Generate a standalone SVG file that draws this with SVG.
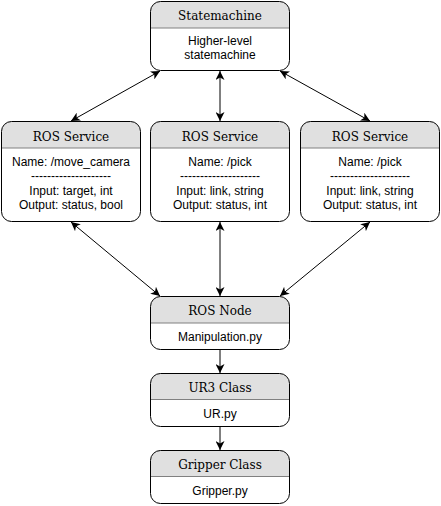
<svg xmlns="http://www.w3.org/2000/svg" width="441" height="506" viewBox="0 0 441 506">
<style>
.body{fill:#ffffff;stroke:none}
.head{fill:#e0e0e0;stroke:none}
.div{stroke:#808080;stroke-width:1.2}
.outline{fill:none;stroke:#000000;stroke-width:1}
.title{font-family:"DejaVu Serif",serif;font-size:12px;fill:#000;text-anchor:middle}
.txt{font-family:"Liberation Sans",Arial,sans-serif;font-size:12px;fill:#000;text-anchor:middle}
.conn{stroke:#000;stroke-width:1;fill:none}
</style>
<defs>
<marker id="arr" markerUnits="userSpaceOnUse" markerWidth="10" markerHeight="9" refX="9" refY="4.5" orient="auto-start-reverse" viewBox="0 0 10 9">
<path d="M0,0 L9,4.5 L0,9 L2.5,4.5 Z" fill="#000"/>
</marker>
</defs>
<rect width="441" height="506" fill="#ffffff"/>

<g id="connectors">
<line class="conn" x1="160" y1="71" x2="71" y2="121" marker-start="url(#arr)" marker-end="url(#arr)"/>
<line class="conn" x1="220" y1="71" x2="220" y2="121" marker-start="url(#arr)" marker-end="url(#arr)"/>
<line class="conn" x1="280" y1="71" x2="370" y2="121" marker-start="url(#arr)" marker-end="url(#arr)"/>
<line class="conn" x1="71" y1="222" x2="160" y2="296" marker-start="url(#arr)" marker-end="url(#arr)"/>
<line class="conn" x1="220" y1="222" x2="220" y2="296" marker-start="url(#arr)" marker-end="url(#arr)"/>
<line class="conn" x1="370" y1="222" x2="280" y2="296" marker-start="url(#arr)" marker-end="url(#arr)"/>
<line class="conn" x1="220" y1="349" x2="220" y2="373" marker-end="url(#arr)"/>
<line class="conn" x1="220" y1="426" x2="220" y2="450" marker-end="url(#arr)"/>
</g>

<g id="statemachine">
<rect class="body" x="150.5" y="1.5" width="139" height="69" rx="10"/>
<path class="head" d="M150.5,28 V11.5 A10,10 0 0 1 160.5,1.5 H279.5 A10,10 0 0 1 289.5,11.5 V28 Z"/>
<line class="div" x1="150.5" y1="28" x2="289.5" y2="28"/>
<rect class="outline" x="150.5" y="1.5" width="139" height="69" rx="10"/>
<text class="title" x="220" y="19.5">Statemachine</text>
<text class="txt" x="220" y="45">Higher-level</text>
<text class="txt" x="220" y="59">statemachine</text>
</g>

<g id="service1">
<rect class="body" x="1.5" y="121.5" width="139" height="100" rx="10"/>
<path class="head" d="M1.5,148 V131.5 A10,10 0 0 1 11.5,121.5 H130.5 A10,10 0 0 1 140.5,131.5 V148 Z"/>
<line class="div" x1="1.5" y1="148" x2="140.5" y2="148"/>
<rect class="outline" x="1.5" y="121.5" width="139" height="100" rx="10"/>
<text class="title" x="71" y="140.5">ROS Service</text>
<text class="txt" x="71" y="166">Name: /move_camera</text>
<text class="txt" x="71" y="180">--------------------</text>
<text class="txt" x="71" y="195">Input: target, int</text>
<text class="txt" x="71" y="209">Output: status, bool</text>
</g>

<g id="service2">
<rect class="body" x="150.5" y="121.5" width="139" height="100" rx="10"/>
<path class="head" d="M150.5,148 V131.5 A10,10 0 0 1 160.5,121.5 H279.5 A10,10 0 0 1 289.5,131.5 V148 Z"/>
<line class="div" x1="150.5" y1="148" x2="289.5" y2="148"/>
<rect class="outline" x="150.5" y="121.5" width="139" height="100" rx="10"/>
<text class="title" x="220" y="140.5">ROS Service</text>
<text class="txt" x="220" y="166">Name: /pick</text>
<text class="txt" x="220" y="180">--------------------</text>
<text class="txt" x="220" y="195">Input: link, string</text>
<text class="txt" x="220" y="209">Output: status, int</text>
</g>

<g id="service3">
<rect class="body" x="300.5" y="121.5" width="139" height="100" rx="10"/>
<path class="head" d="M300.5,148 V131.5 A10,10 0 0 1 310.5,121.5 H429.5 A10,10 0 0 1 439.5,131.5 V148 Z"/>
<line class="div" x1="300.5" y1="148" x2="439.5" y2="148"/>
<rect class="outline" x="300.5" y="121.5" width="139" height="100" rx="10"/>
<text class="title" x="370" y="140.5">ROS Service</text>
<text class="txt" x="370" y="166">Name: /pick</text>
<text class="txt" x="370" y="180">--------------------</text>
<text class="txt" x="370" y="195">Input: link, string</text>
<text class="txt" x="370" y="209">Output: status, int</text>
</g>

<g id="rosnode">
<rect class="body" x="150.5" y="296.5" width="139" height="53" rx="10"/>
<path class="head" d="M150.5,323 V306.5 A10,10 0 0 1 160.5,296.5 H279.5 A10,10 0 0 1 289.5,306.5 V323 Z"/>
<line class="div" x1="150.5" y1="323" x2="289.5" y2="323"/>
<rect class="outline" x="150.5" y="296.5" width="139" height="53" rx="10"/>
<text class="title" x="220" y="315">ROS Node</text>
<text class="txt" x="220" y="340.5">Manipulation.py</text>
</g>

<g id="ur3">
<rect class="body" x="150.5" y="373.5" width="139" height="53" rx="10"/>
<path class="head" d="M150.5,399.5 V383.5 A10,10 0 0 1 160.5,373.5 H279.5 A10,10 0 0 1 289.5,383.5 V399.5 Z"/>
<line class="div" x1="150.5" y1="399.5" x2="289.5" y2="399.5"/>
<rect class="outline" x="150.5" y="373.5" width="139" height="53" rx="10"/>
<text class="title" x="220" y="392">UR3 Class</text>
<text class="txt" x="220" y="417.5">UR.py</text>
</g>

<g id="gripper">
<rect class="body" x="150.5" y="450.5" width="139" height="53" rx="10"/>
<path class="head" d="M150.5,476.5 V460.5 A10,10 0 0 1 160.5,450.5 H279.5 A10,10 0 0 1 289.5,460.5 V476.5 Z"/>
<line class="div" x1="150.5" y1="476.5" x2="289.5" y2="476.5"/>
<rect class="outline" x="150.5" y="450.5" width="139" height="53" rx="10"/>
<text class="title" x="220" y="469">Gripper Class</text>
<text class="txt" x="220" y="494.5">Gripper.py</text>
</g>
</svg>
